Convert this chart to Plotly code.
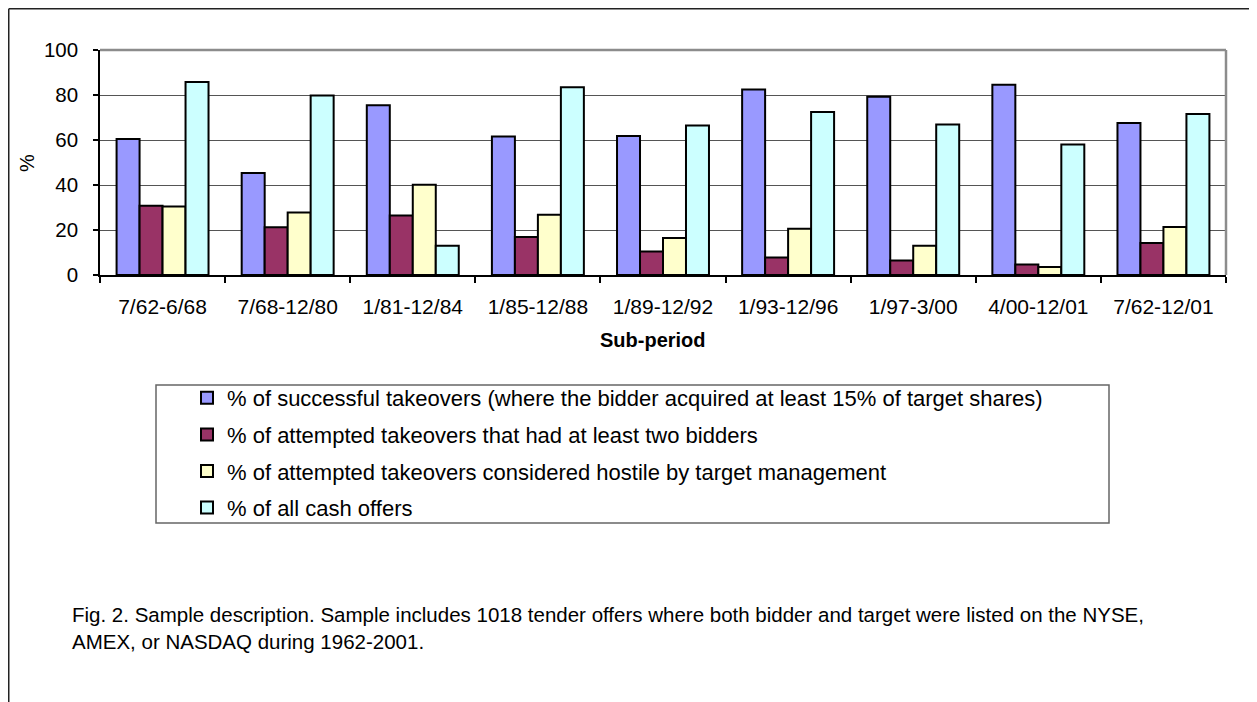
import plotly.graph_objects as go

periods = ["7/62-6/68", "7/68-12/80", "1/81-12/84", "1/85-12/88", "1/89-12/92",
           "1/93-12/96", "1/97-3/00", "4/00-12/01", "7/62-12/01"]
successful = [60.5, 45.3, 75.4, 61.6, 61.8, 82.5, 79.2, 84.6, 67.6]
two_bidders = [30.8, 21.2, 26.4, 16.9, 10.5, 7.8, 6.5, 4.7, 14.2]
hostile = [30.5, 27.8, 40.1, 26.8, 16.4, 20.6, 13.0, 3.6, 21.3]
cash = [85.8, 79.8, 13.0, 83.4, 66.5, 72.4, 66.9, 58.0, 71.6]

series_names = [
    "% of successful takeovers (where the bidder acquired at least 15% of target shares)",
    "% of attempted takeovers that had at least two bidders",
    "% of attempted takeovers considered hostile by target management",
    "% of all cash offers",
]
series_values = [successful, two_bidders, hostile, cash]
colors = ["#9999FF", "#993366", "#FFFFCC", "#CCFFFF"]

caption = ("Fig. 2. Sample description. Sample includes 1018 tender offers where both bidder and target were listed on the NYSE,"
           "<br>AMEX, or NASDAQ during 1962-2001.")

# page has an 8px body margin; figure is sized to fit the window
OFF = 8
W, H = 1257 - OFF, 702 - OFF
L, R, T, B = 100, 1226, 50, 275  # plot area in page pixels


def xp(x):
    return (x - L) / (R - L)


def yp(y):
    return (B - y) / (B - T)


FONT = "Liberation Sans, Arial, sans-serif"

fig = go.Figure()
for i, (name, vals, col) in enumerate(zip(series_names, series_values, colors)):
    fig.add_trace(go.Bar(
        x=periods, y=vals, name=name, legendgroup=f"g{i}",
        marker=dict(color=col, line=dict(color="black", width=2)),
    ))

fig.update_layout(
    width=W, height=H,
    margin=dict(l=L - OFF, r=W - (R - OFF), t=T - OFF, b=H - (B - OFF), autoexpand=False),
    paper_bgcolor="white", plot_bgcolor="white",
    barmode="group", bargap=0.265, bargroupgap=0,
    font=dict(family=FONT, size=20, color="black"),
    showlegend=True,
    legend=dict(
        x=xp(187), y=yp(377), xanchor="left", yanchor="top",
        font=dict(family=FONT, size=22, color="black"),
        bgcolor="rgba(0,0,0,0)", borderwidth=0,
        traceorder="grouped", tracegroupgap=5,
        itemclick=False, itemdoubleclick=False,
    ),
    xaxis=dict(
        type="category", showline=True, linecolor="black", linewidth=1.5,
        ticks="outside", tickson="boundaries", ticklen=6, tickcolor="black", tickwidth=1.5,
        tickfont=dict(size=21), ticklabelstandoff=12, showgrid=False,
    ),
    yaxis=dict(
        range=[0, 100], dtick=20, showline=True, linecolor="black", linewidth=1.5,
        ticks="outside", ticklen=5, tickcolor="black", tickwidth=1.5,
        tickfont=dict(size=20.5), ticklabelstandoff=11,
        showgrid=True, gridcolor="#555555", gridwidth=1, zeroline=False,
    ),
    shapes=[
        # grey plot-area border (top and right)
        dict(type="line", xref="paper", yref="paper", x0=0, x1=1, y0=1, y1=1,
             line=dict(color="#8c8c8c", width=2.5), layer="above"),
        dict(type="line", xref="paper", yref="paper", x0=1, x1=1, y0=0, y1=1,
             line=dict(color="#8c8c8c", width=2.5), layer="above"),
        # outer frame (top and left edges)
        dict(type="line", xref="paper", yref="paper", x0=xp(8.75), x1=xp(1262), y0=yp(8.75), y1=yp(8.75),
             line=dict(color="#222222", width=1.5)),
        dict(type="line", xref="paper", yref="paper", x0=xp(8.75), x1=xp(8.75), y0=yp(8.75), y1=yp(705),
             line=dict(color="#222222", width=1.5)),
        # legend box
        dict(type="rect", xref="paper", yref="paper", x0=xp(156), x1=xp(1109), y0=yp(385), y1=yp(523),
             line=dict(color="#666666", width=1.5), fillcolor="rgba(0,0,0,0)"),
    ],
    annotations=[
        dict(text="%", xref="paper", yref="paper", x=xp(27), y=yp(163), showarrow=False,
             textangle=-90, font=dict(size=20), xanchor="center", yanchor="middle"),
        dict(text="<b>Sub-period</b>", xref="paper", yref="paper", x=xp(653), y=yp(340),
             showarrow=False, font=dict(size=20), xanchor="center", yanchor="middle"),
        dict(text=caption, xref="paper", yref="paper", x=xp(70), y=yp(628),
             showarrow=False, font=dict(size=20.5), xanchor="left", yanchor="middle",
             align="left"),
    ],
)

fig.write_html("out.html")
